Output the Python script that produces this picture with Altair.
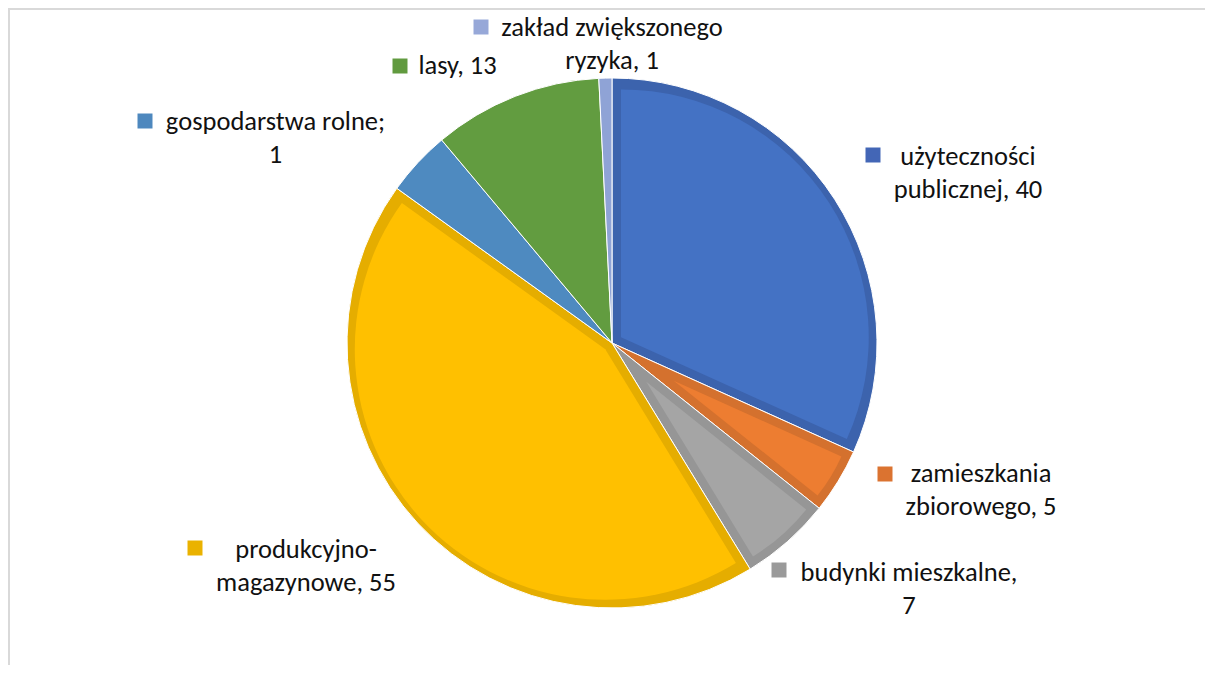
import altair as alt
import pandas as pd

# ---- data ----
categories = [
    "użyteczności publicznej",
    "zamieszkania zbiorowego",
    "budynki mieszkalne",
    "produkcyjno-magazynowe",
    "gospodarstwa rolne",
    "lasy",
    "zakład zwiększonego ryzyka",
]
values = [40, 5, 7, 55, 5, 13, 1]
label_lines = [
    "użyteczności\npublicznej, 40",
    "zamieszkania\nzbiorowego, 5",
    "budynki mieszkalne,\n7",
    "produkcyjno-\nmagazynowe, 55",
    "gospodarstwa rolne;\n1",
    "lasy, 13",
    "zakład zwiększonego\nryzyka, 1",
]

# ---- styles ----
fill_colors = ["#4472C4", "#ED7D31", "#A5A5A5", "#FFC000", "#4E8AC0", "#629C40", "#8FA3D6"]
border_colors = ["#3C63AD", "#D4712E", "#969696", "#E5AD00", "#4E8AC0", "#629C40", "#8FA3D6"]
key_colors = ["#4366B6", "#DB7330", "#9A9A9A", "#EAB200", "#4E88BE", "#619A3F", "#97A8D8"]
bordered = [True, True, True, True, False, False, False]

# ---- layout ----
W, H = 1197, 657
CX, CY, R, D = 604, 335, 265, 9
label_x = [960, 973, 901, 298, 267.5, 449.5, 604]
label_y = [149, 466, 565, 542, 114, 58, 20]
key_x = [865, 877, 771, 187, 137, 392, 473]
key_y = [147, 466, 562, 540, 113, 58, 19]

df = pd.DataFrame({
    "idx": list(range(len(categories))),
    "category": categories,
    "value": values,
    "label": label_lines,
    "fill": fill_colors,
    "border": border_colors,
    "key": key_colors,
    "bordered": bordered,
    "lx": label_x,
    "ly": label_y,
    "kx": key_x,
    "ky": key_y,
})

base = alt.Chart(df)

outer = base.mark_arc(radius=R, stroke="white", strokeWidth=1).encode(
    theta=alt.Theta("value:Q", stack=True),
    order=alt.Order("idx:Q"),
    color=alt.Color("border:N", scale=None),
    x=alt.value(CX),
    y=alt.value(CY),
)

inner = base.transform_joinaggregate(
    total="sum(value)"
).transform_window(
    cum="sum(value)", sort=[alt.SortField("idx")], frame=[None, 0]
).transform_calculate(
    t1="2*PI*datum.cum/datum.total",
    t0="2*PI*(datum.cum-datum.value)/datum.total",
).transform_calculate(
    mid="(datum.t0+datum.t1)/2",
    half="(datum.t1-datum.t0)/2",
).transform_calculate(
    s=f"{D}/sin(datum.half)",
).transform_calculate(
    icx=f"{CX}+datum.s*sin(datum.mid)",
    icy=f"{CY}-datum.s*cos(datum.mid)",
    ir=f"{R}-{D}-datum.s*(1+cos(datum.half))/2",
).transform_filter(
    "datum.bordered"
).mark_arc().encode(
    theta=alt.Theta("t0:Q", scale=None),
    theta2="t1:Q",
    radius=alt.Radius("ir:Q", scale=None),
    x=alt.X("icx:Q", scale=None),
    y=alt.Y("icy:Q", scale=None),
    color=alt.Color("fill:N", scale=None),
)

labels = base.mark_text(
    lineBreak="\n", align="center", baseline="middle",
    font="Calibri, Carlito, Lato", fontSize=26.5, lineHeight=33, color="#111111",
).encode(
    x=alt.X("lx:Q", scale=None),
    y=alt.Y("ly:Q", scale=None),
    text="label:N",
)

keys = base.mark_square(size=225, opacity=1).encode(
    x=alt.X("kx:Q", scale=None),
    y=alt.Y("ky:Q", scale=None),
    color=alt.Color("key:N", scale=None),
)

frame_top = alt.Chart(df).mark_rule(color="#D9D9D9", strokeWidth=2).encode(
    x=alt.value(0), x2=alt.value(W), y=alt.value(1)
)
frame_left = alt.Chart(df).mark_rule(color="#D9D9D9", strokeWidth=2).encode(
    x=alt.value(1), y=alt.value(0), y2=alt.value(H)
)

chart = alt.layer(frame_top, frame_left, outer, inner, keys, labels).properties(
    width=W, height=H, padding=0, autosize=alt.AutoSizeParams(type="none")
).configure_view(stroke=None)

chart.save("out.html", embed_options={"renderer": "svg", "actions": False})
